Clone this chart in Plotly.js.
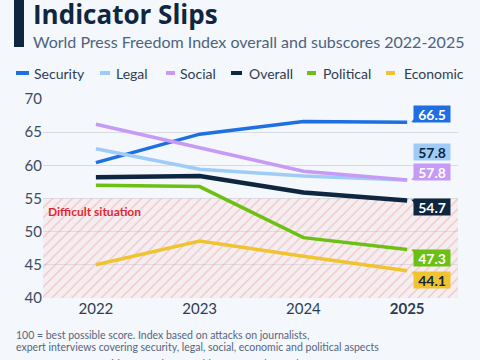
<!DOCTYPE html>
<html>
<head>
<meta charset="utf-8">
<script src="https://cdn.plot.ly/plotly-3.0.1.min.js"></script>
<style>
html,body{margin:0;padding:0;background:#f4f7fb;}
#chart{width:480px;height:360px;}
</style>
</head>
<body>
<div id="chart"></div>
<script>
// ---- data ----
const years = [2022, 2023, 2024, 2025];
const yearLabels = ['2022', '2023', '2024', '<b>2025</b>'];
const seriesNames = ['Security', 'Legal', 'Social', 'Overall', 'Political', 'Economic'];
const security  = [60.4, 64.7, 66.6, 66.5];
const legal     = [62.5, 59.4, 58.4, 57.8];
const social    = [66.2, 62.6, 59.1, 57.8];
const overall   = [58.2, 58.4, 55.9, 54.7];
const political = [57.0, 56.8, 49.1, 47.3];
const economic  = [45.0, 48.6, 46.3, 44.1];
const difficultBand = [40, 55];
const difficultLabel = 'Difficult situation';

// ---- styles ----
const FONT = 'Lato, "Open Sans", sans-serif';
const TITLE_FONT = '"Open Sans", Lato, sans-serif';
const colors = ['#1d6fe3', '#9fcbf7', '#c69af5', '#0f2640', '#6cc014', '#f0c330'];
const labelTextColors = ['#ffffff', '#0f2640', '#ffffff', '#ffffff', '#ffffff', '#0f2640'];
const lineWidths = [3.5, 3.5, 3.5, 4.5, 3.5, 3.5];
const labelShift = [8, 28, 8, -7, -8, -9];
const notchPos = ['bottom', 'none', 'bottom', 'top', 'top', 'top'];
const values = [security, legal, social, overall, political, economic];

// plot area geometry in pixels (for placing chrome)
const L = 43, R = 458, T = 99, B = 298;
const px2x = px => (px - L) / (R - L);
const px2y = py => (B - py) / (B - T);

const traces = [];
// hatched "difficult situation" band
traces.push({
  x: [2021, 2026, 2026, 2021],
  y: [difficultBand[0], difficultBand[0], difficultBand[1], difficultBand[1]],
  type: 'scatter', mode: 'lines', fill: 'toself',
  line: {width: 0, color: 'rgba(0,0,0,0)'},
  fillcolor: 'rgba(0,0,0,0)',
  fillpattern: {shape: '/', fgcolor: 'rgba(238,130,130,0.4)', bgcolor: 'rgba(250,220,220,0.3)', size: 7, solidity: 0.18},
  hoverinfo: 'skip', showlegend: false
});
values.forEach((v, i) => {
  traces.push({
    x: years, y: v, type: 'scatter', mode: 'lines', name: seriesNames[i],
    line: {color: colors[i], width: lineWidths[i], shape: 'linear'},
    showlegend: false
  });
});

const annotations = [];
const shapes = [];

// end labels
values.forEach((v, i) => {
  const last = v[v.length - 1];
  annotations.push({
    x: years[years.length - 1], y: last, xref: 'x', yref: 'y',
    text: '<b>' + last.toFixed(1) + '</b>', showarrow: false,
    xshift: 25, yshift: labelShift[i], xanchor: 'center', yanchor: 'middle',
    bgcolor: colors[i], font: {family: FONT, size: 14, color: labelTextColors[i]},
    width: 32, height: 12, borderpad: 2
  });
  if (notchPos[i] !== 'none') {
    const boxLeft = 25 - 18;
    const edge = notchPos[i] === 'bottom' ? (labelShift[i] - 8) : (labelShift[i] + 8);
    const dir = notchPos[i] === 'bottom' ? 1 : -1;
    shapes.push({
      type: 'path', xref: 'x', yref: 'y', xsizemode: 'pixel', ysizemode: 'pixel',
      xanchor: years[years.length - 1], yanchor: last,
      path: `M ${boxLeft - 3},${edge} L ${boxLeft + 1},${edge} L ${boxLeft + 1},${edge + dir * 5} Z`,
      fillcolor: colors[i], line: {width: 0}, layer: 'above'
    });
  }
});

// difficult situation label
annotations.push({
  x: 0, y: difficultBand[1], xref: 'paper', yref: 'y', xanchor: 'left', yanchor: 'top',
  xshift: 3, yshift: -3, showarrow: false,
  text: '<b>' + difficultLabel + '</b>', font: {family: FONT, size: 12, color: '#e3262d'}
});

// custom legend
const legendDash = [[16, 29], [100, 110], [166, 175], [231, 242], [307, 316], [386, 395]];
const legendTextX = [32, 114, 178, 247, 321, 402];
seriesNames.forEach((n, i) => {
  shapes.push({
    type: 'line', xref: 'paper', yref: 'paper',
    x0: px2x(legendDash[i][0]), x1: px2x(legendDash[i][1]), y0: px2y(73), y1: px2y(73),
    line: {color: colors[i], width: 4}
  });
  annotations.push({
    x: px2x(legendTextX[i]), y: px2y(73), xref: 'paper', yref: 'paper',
    xanchor: 'left', yanchor: 'middle', showarrow: false, text: n,
    font: {family: FONT, size: 14, color: '#2e3d52'}
  });
});

// title bar
shapes.push({
  type: 'rect', xref: 'paper', yref: 'paper',
  x0: px2x(14), x1: px2x(24), y0: px2y(47), y1: px2y(-5),
  fillcolor: '#0f2640', line: {width: 0}
});
annotations.push({
  x: px2x(31), y: px2y(14), xref: 'paper', yref: 'paper', xanchor: 'left', yanchor: 'middle',
  showarrow: false, text: '<b>Indicator Slips</b>',
  font: {family: TITLE_FONT, size: 26, color: '#0f2640'}
});
annotations.push({
  x: px2x(31), y: px2y(42), xref: 'paper', yref: 'paper', xanchor: 'left', yanchor: 'middle',
  showarrow: false, text: 'World Press Freedom Index overall and subscores 2022-2025',
  font: {family: FONT, size: 16, color: '#4d6380'}
});
// footnotes
const notes = [
  '100 = best possible score. Index based on attacks on journalists,',
  'expert interviews covering security, legal, social, economic and political aspects',
  'Source: Reporters Without Borders\' World Press Freedom Index'
];
const noteY = [335, 347, 364];
notes.forEach((t, i) => {
  annotations.push({
    x: px2x(14), y: px2y(noteY[i]), xref: 'paper', yref: 'paper', xanchor: 'left', yanchor: 'middle',
    showarrow: false, text: t, font: {family: FONT, size: 10.5, color: '#556680'}
  });
});

const layout = {
  width: 480, height: 360,
  margin: {l: L, r: 480 - R, t: T, b: 360 - B, pad: 0},
  paper_bgcolor: '#f4f7fb', plot_bgcolor: '#f4f7fb',
  showlegend: false,
  xaxis: {
    range: [2021.49, 2025.49], tickvals: years, ticktext: yearLabels,
    showgrid: false, zeroline: false, showline: false, ticks: '',
    tickfont: {family: FONT, size: 15, color: '#2e3d52'}, fixedrange: true
  },
  yaxis: {
    range: [40, 70], dtick: 5, tick0: 40, showgrid: true, gridcolor: '#d6dbe2', gridwidth: 1,
    zeroline: false, showline: false, ticks: '',
    tickfont: {family: FONT, size: 15, color: '#3d4b5f'}, fixedrange: true
  },
  annotations: annotations,
  shapes: shapes
};

Plotly.newPlot('chart', traces, layout, {staticPlot: true, displayModeBar: false});
</script>
</body>
</html>
